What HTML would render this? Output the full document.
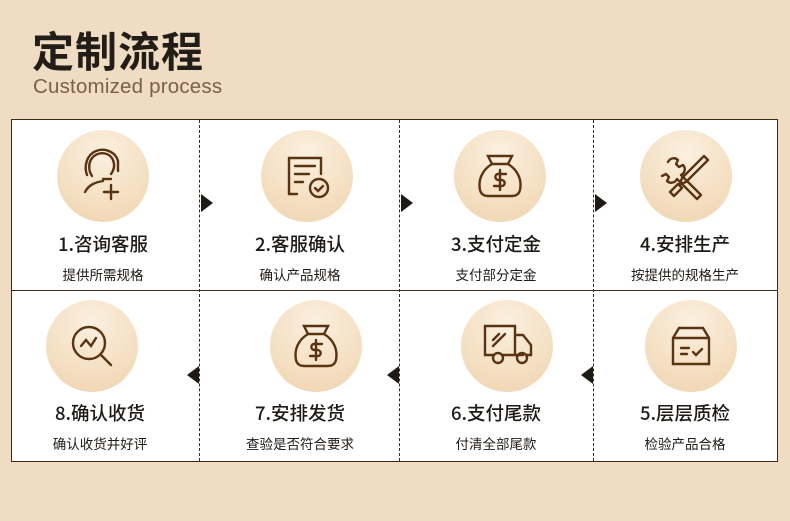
<!DOCTYPE html>
<html><head><meta charset="utf-8"><style>
body{margin:0;width:790px;height:521px;background:#f0dcc3;font-family:"Liberation Sans","Noto Sans CJK SC",sans-serif;position:relative;overflow:hidden}
.t{position:absolute;left:32px;top:19px;font-size:42px;font-weight:bold;color:#231d18;letter-spacing:1px;font-family:"Noto Sans CJK SC",sans-serif}
.s{position:absolute;left:33px;top:75px;font-size:20.5px;color:#7b5f48;letter-spacing:0.2px}
.box{position:absolute;left:11px;top:119px;width:765px;height:341px;background:#fff;border:1px solid #3b2a1a}
.h{position:absolute;left:11px;top:290px;width:767px;height:1px;background:#3b2a1a}
.v{position:absolute;top:120px;height:341px;border-left:1px dashed #3b2a1a}
.c{position:absolute;width:92px;height:92px;border-radius:50%;background:radial-gradient(circle at 50% 25%,#fbf0e0,#f3dcbc 70%,#eed2ac)}
.c svg{position:absolute;left:0;top:0}
.n{position:absolute;width:190px;text-align:center;font-size:18.5px;font-weight:500;color:#1e1a16;font-family:"Noto Sans CJK SC",sans-serif}
.d{position:absolute;width:190px;text-align:center;font-size:13.5px;color:#1e1a16;font-family:"Noto Sans CJK SC",sans-serif}
.ar{position:absolute;width:0;height:0;border-top:9px solid transparent;border-bottom:9px solid transparent}
.r{border-left:12px solid #1e1a16}.l{border-right:12px solid #1e1a16}
</style></head><body>
<div class="t">定制流程</div>
<div class="s">Customized process</div>
<div class="box"></div>
<div class="h"></div>
<div class="v" style="left:199px"></div>
<div class="v" style="left:399px"></div>
<div class="v" style="left:593px"></div>
<div class="ar r" style="left:201px;top:194px"></div>
<div class="ar r" style="left:401px;top:194px"></div>
<div class="ar r" style="left:595px;top:194px"></div>
<div class="ar l" style="left:187px;top:366px"></div>
<div class="ar l" style="left:387px;top:366px"></div>
<div class="ar l" style="left:581px;top:366px"></div>

<div class="c" style="left:57px;top:130px"><svg width="92" height="92" fill="none" stroke="#5a3412" stroke-width="2.4" stroke-linecap="round"><path d="M28 62c4-8 12-10 18-11M35 46c-4-6-4-15 2-20 7-5 16-3 19 4 2 5 1 10-2 14M30 45c-3-8-1-20 9-24 10-4 20 2 22 10v10M46 49h8M54 55v14M47 62h14"/></svg></div>
<div class="n" style="left:8px;top:231px">1.咨询客服</div><div class="d" style="left:8px;top:264px">提供所需规格</div>

<div class="c" style="left:261px;top:130px"><svg width="92" height="92" fill="none" stroke="#5a3412" stroke-width="2.4" stroke-linecap="round"><path d="M36 64h-8V28h32v16M34 36h20M34 44h14M34 52h8"/><circle cx="58" cy="58" r="9"/><path d="M54 58l3 3 5-5"/></svg></div>
<div class="n" style="left:205px;top:231px">2.客服确认</div><div class="d" style="left:205px;top:264px">确认产品规格</div>

<div class="c" style="left:454px;top:130px"><svg width="92" height="92" fill="none" stroke="#5a3412" stroke-width="2.4" stroke-linecap="round"><path d="M38 34l-4-8h24l-4 8M38 34h16M38 34c-10 6-14 16-12 26 1 4 4 6 8 6h24c4 0 7-2 8-6 2-10-2-20-12-26"/><path d="M52 44h-8c-3 0-4 5 0 6h4c4 1 3 6 0 6h-8M46 40v20"/></svg></div>
<div class="n" style="left:401px;top:231px">3.支付定金</div><div class="d" style="left:401px;top:264px">支付部分定金</div>

<div class="c" style="left:640px;top:130px"><svg width="92" height="92" fill="none" stroke="#5a3412" stroke-width="2.4" stroke-linecap="round" stroke-linejoin="round"><path d="M28 32c2-4 7-5 10-2l-2 4 3 3 4-2c3 3 2 8-2 10l20 20-4 4-20-20c-2 4-7 5-10 2l2-4-3-3-4 2"/><path d="M64 26l4 4-22 22-6 2 2-6z"/><path d="M30 62l8-8 4 4-8 8z"/></svg></div>
<div class="n" style="left:590px;top:231px">4.安排生产</div><div class="d" style="left:590px;top:264px">按提供的规格生产</div>

<div class="c" style="left:46px;top:300px"><svg width="92" height="92" fill="none" stroke="#5a3412" stroke-width="2.4" stroke-linecap="round"><circle cx="43" cy="43" r="16"/><path d="M55 55l10 10M35 46l5-6 5 6 5-8"/></svg></div>
<div class="n" style="left:5px;top:400px">8.确认收货</div><div class="d" style="left:5px;top:433px">确认收货并好评</div>

<div class="c" style="left:270px;top:300px"><svg width="92" height="92" fill="none" stroke="#5a3412" stroke-width="2.4" stroke-linecap="round"><path d="M38 34l-4-8h24l-4 8M38 34h16M38 34c-10 6-14 16-12 26 1 4 4 6 8 6h24c4 0 7-2 8-6 2-10-2-20-12-26"/><path d="M52 44h-8c-3 0-4 5 0 6h4c4 1 3 6 0 6h-8M46 40v20"/></svg></div>
<div class="n" style="left:205px;top:400px">7.安排发货</div><div class="d" style="left:205px;top:433px">查验是否符合要求</div>

<div class="c" style="left:461px;top:300px"><svg width="92" height="92" fill="none" stroke="#5a3412" stroke-width="2.4" stroke-linecap="round"><path d="M32 55h-8V26h30v29H42M54 35h8l8 10v10h-4M62 55h-6M32 40l6-6M32 46l12-12"/><circle cx="37" cy="58" r="5"/><circle cx="61" cy="58" r="5"/></svg></div>
<div class="n" style="left:401px;top:400px">6.支付尾款</div><div class="d" style="left:401px;top:433px">付清全部尾款</div>

<div class="c" style="left:645px;top:300px"><svg width="92" height="92" fill="none" stroke="#5a3412" stroke-width="2.4" stroke-linecap="round"><path d="M28 38l6-10h24l6 10v26H28zM28 38h36M36 48h8M36 54h6M48 52l3 3 6-6"/></svg></div>
<div class="n" style="left:590px;top:400px">5.层层质检</div><div class="d" style="left:590px;top:433px">检验产品合格</div>
</body></html>
